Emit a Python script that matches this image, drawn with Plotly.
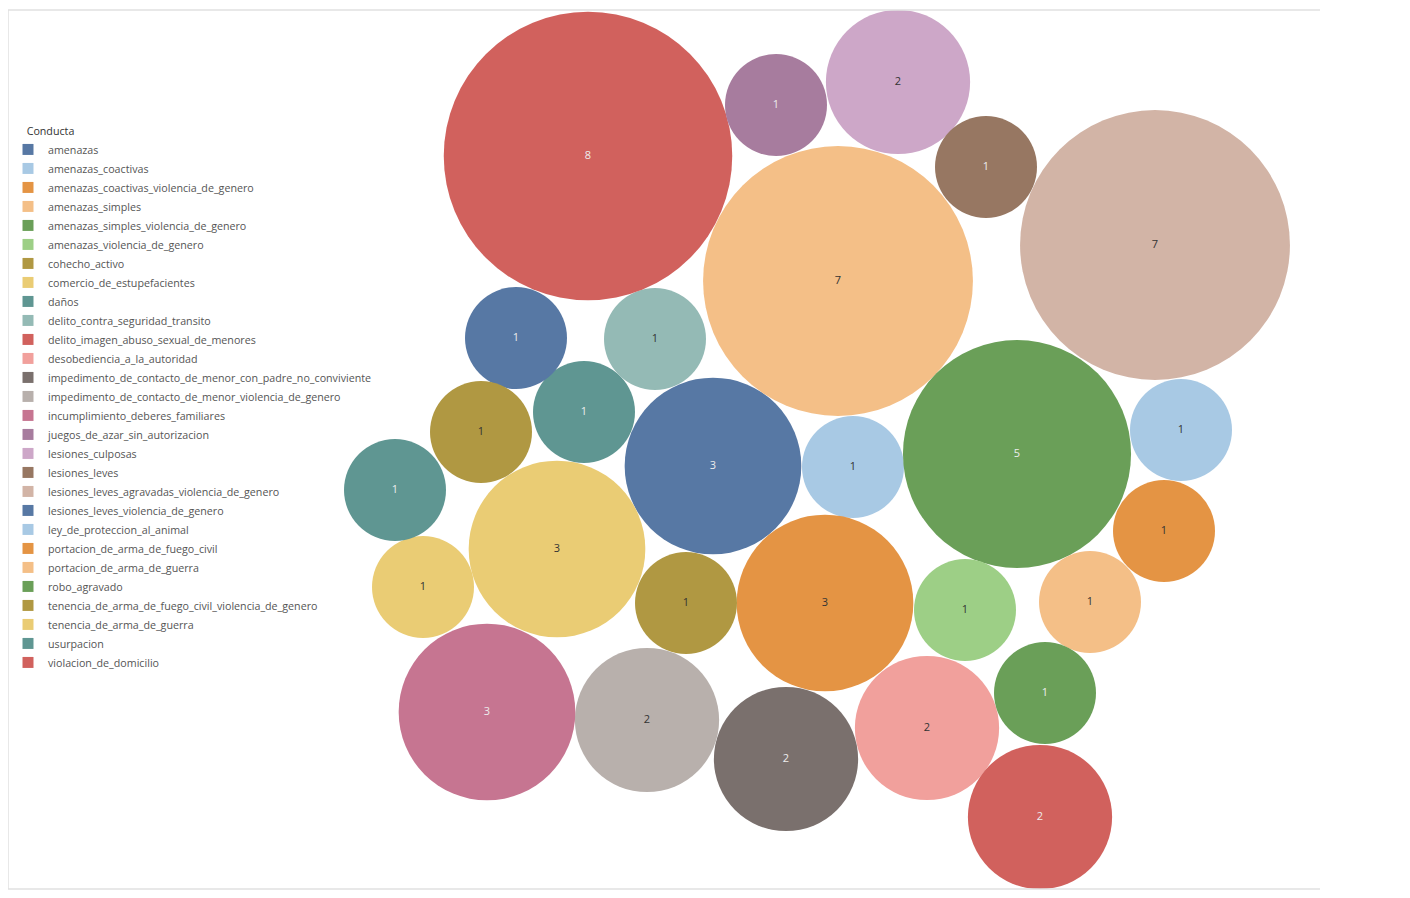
import numpy as np
import plotly.graph_objects as go

# Datos: conteo de casos por conducta
conductas = [
    'amenazas', 'amenazas_coactivas', 'amenazas_coactivas_violencia_de_genero',
    'amenazas_simples', 'amenazas_simples_violencia_de_genero',
    'amenazas_violencia_de_genero', 'cohecho_activo', 'comercio_de_estupefacientes',
    'daños', 'delito_contra_seguridad_transito', 'delito_imagen_abuso_sexual_de_menores',
    'desobediencia_a_la_autoridad',
    'impedimento_de_contacto_de_menor_con_padre_no_conviviente',
    'impedimento_de_contacto_de_menor_violencia_de_genero',
    'incumplimiento_deberes_familiares', 'juegos_de_azar_sin_autorizacion',
    'lesiones_culposas', 'lesiones_leves', 'lesiones_leves_agravadas_violencia_de_genero',
    'lesiones_leves_violencia_de_genero', 'ley_de_proteccion_al_animal',
    'portacion_de_arma_de_fuego_civil', 'portacion_de_arma_de_guerra', 'robo_agravado',
    'tenencia_de_arma_de_fuego_civil_violencia_de_genero', 'tenencia_de_arma_de_guerra',
    'usurpacion', 'violacion_de_domicilio',
]
casos = [3, 1, 3, 7, 5, 1, 1, 3, 1, 1, 8, 2, 2, 2, 3, 1, 2, 1, 7, 1, 1, 1, 1, 1, 1, 1, 1, 2]

# Disposición de las burbujas (centros en píxeles, como el empaquetado de Tableau)
pack_x = [713, 853, 825, 838, 1017, 965, 686, 557, 584, 655, 588, 927, 786, 647,
          487, 776, 898, 986, 1155, 516, 1181, 1164, 1090, 1045, 481, 423, 395, 1040]
pack_y = [466, 467, 603, 281, 454, 610, 603, 549, 412, 339, 156, 728, 759, 720,
          712, 105, 82, 167, 245, 338, 430, 531, 602, 693, 432, 587, 490, 817]

# Estilo
colores = [
    '#5778A4', '#A8C9E4', '#E49444', '#F4BF87', '#6A9F58', '#9DCF86', '#B09842',
    '#EACC74', '#5F9692', '#94BAB5', '#D1615D', '#F1A09C', '#7A706D', '#B8B0AC',
    '#C67591', '#A77C9E', '#CDA7C8', '#977762', '#D2B4A6', '#5778A4', '#A8C9E4',
    '#E49444', '#F4BF87', '#6A9F58', '#B09842', '#EACC74', '#5F9692', '#D1615D',
]
oscuros = {'#5778A4', '#6A9F58', '#5F9692', '#D1615D', '#7A706D', '#C67591',
           '#A77C9E', '#977762'}

radio_unidad = 51  # radio en px de una burbuja con 1 caso

fig = go.Figure()

for i, nombre in enumerate(conductas):
    color = colores[i]
    diametro = 2 * radio_unidad * np.sqrt(casos[i])
    fig.add_trace(
        go.Scatter(
            x=[pack_x[i]],
            y=[pack_y[i]],
            mode='markers+text',
            text=[str(casos[i])],
            textposition='middle center',
            textfont=dict(size=11, color='#EDEDED' if color in oscuros else '#333333',
                          family='Open Sans'),
            marker=dict(size=diametro, color=color, line=dict(width=0)),
            name=nombre,
            legendgroup=nombre,
            showlegend=False,
            hovertemplate=nombre + '<br>%{text}<extra></extra>',
        )
    )
    # entrada de leyenda con cuadrado, como en Tableau
    fig.add_trace(
        go.Scatter(
            x=[None],
            y=[None],
            mode='markers',
            marker=dict(symbol='square', size=11, color=color),
            name=nombre,
            legendgroup=nombre,
            showlegend=True,
        )
    )

# marco gris claro
for x0, y0, x1, y1 in [(5, 10, 1320, 10), (8, 10, 8, 889), (5, 889, 1320, 889)]:
    fig.add_shape(type='line', x0=x0, y0=y0, x1=x1, y1=y1,
                  line=dict(color='#E0E0E0', width=1.5))

# la página tiene 8 px de margen, así que los ejes van en píxeles de pantalla
fig.update_layout(
    width=1402,
    height=890,
    margin=dict(l=0, r=0, t=0, b=0),
    plot_bgcolor='white',
    paper_bgcolor='white',
    xaxis=dict(range=[8, 1410], visible=False, fixedrange=True),
    yaxis=dict(range=[898, 8], visible=False, fixedrange=True),
    showlegend=True,
    legend=dict(
        title=dict(text='\u00a0' * 6 + 'Conducta',
                   font=dict(size=10.7, color='#333333', family='Open Sans')),
        font=dict(size=10.7, color='#555555', family='Open Sans'),
        x=0.0,
        y=0.873,
        xanchor='left',
        yanchor='top',
        bgcolor='rgba(0,0,0,0)',
        itemsizing='trace',
        tracegroupgap=0,
    ),
)

fig.write_html('out.html')
